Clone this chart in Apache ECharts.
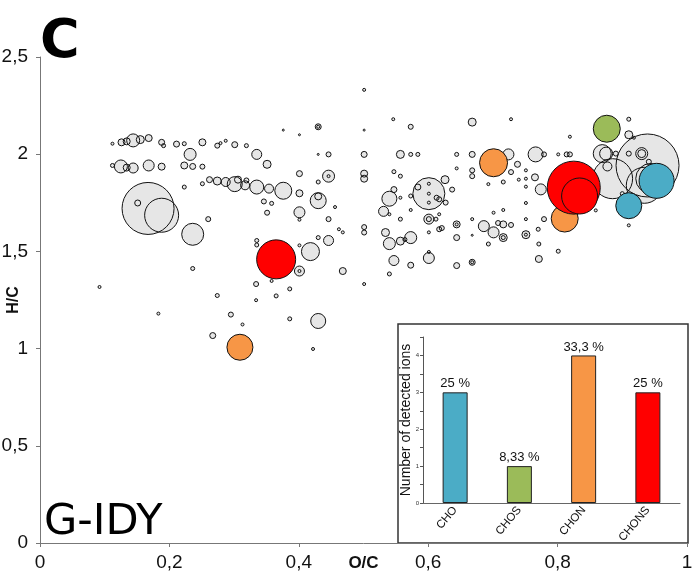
<!DOCTYPE html>
<html>
<head>
<meta charset="UTF-8">
<script src="https://cdn.jsdelivr.net/npm/echarts@6/dist/echarts.min.js"></script>
<style type="text/css">
html, body { margin: 0; padding: 0; background: #fff; }
#main { width: 692px; height: 580px; }
</style>
</head>
<body>
<div id="main"></div>
<script type="text/javascript">
// [O/C, H/C, relative intensity (bubble size)]
var grayPts = [
	[0.112,2.054,3],[0.126,2.061,7],[0.134,2.066,7],[0.144,2.071,13],[0.155,2.075,8],[0.168,2.083,7],
	[0.188,2.061,6],[0.191,2.044,4],[0.211,2.052,6],[0.223,2.054,4],[0.251,2.061,7],[0.274,2.044,5],
	[0.279,2.057,3],[0.287,2.069,3],[0.301,2.049,6],[0.319,2.044,4],[0.376,2.124,2],[0.401,2.100,2],
	[0.430,2.141,6],[0.430,2.141,3],[0.232,1.999,12],[0.335,1.999,10],[0.430,1.999,2],[0.446,1.999,5],
	[0.112,1.942,4],[0.125,1.937,13],[0.134,1.931,7],[0.144,1.929,10],[0.168,1.942,11],[0.188,1.936,7],
	[0.223,1.942,7],[0.236,1.937,6],[0.251,1.936,5],[0.351,1.948,8],[0.401,1.900,6],
	[0.223,1.831,4],[0.251,1.848,4],[0.262,1.869,6],[0.274,1.862,8],[0.287,1.857,9],[0.301,1.846,15],
	[0.306,1.869,7],[0.317,1.840,9],[0.319,1.865,5],[0.335,1.831,14],[0.354,1.823,9],[0.376,1.812,17],
	[0.401,1.799,7],[0.430,1.857,4],[0.446,1.887,12],[0.446,1.887,3],[0.430,1.761,16],[0.430,1.783,7],
	[0.346,1.757,5],[0.358,1.747,4],[0.351,1.699,5],[0.401,1.701,11],[0.401,1.663,3],[0.446,1.666,5],
	[0.430,1.571,4],[0.446,1.556,10],
	[0.167,1.721,52],[0.188,1.686,34],[0.151,1.749,6],[0.236,1.588,22],[0.260,1.666,5],
	[0.335,1.556,4],[0.335,1.533,4],[0.401,1.531,3],[0.418,1.499,18],[0.401,1.399,10],[0.401,1.399,3],
	[0.236,1.412,4],[0.468,1.399,7],[0.334,1.332,5],[0.358,1.348,3],[0.386,1.307,4],[0.274,1.273,4],
	[0.334,1.249,3],[0.365,1.271,4],[0.501,1.332,3],[0.540,1.384,4],[0.547,1.453,10],[0.540,1.540,12],
	[0.534,1.597,8],[0.501,1.625,5],[0.501,1.597,5],[0.462,1.614,3],[0.468,1.598,3],
	[0.092,1.317,3],[0.183,1.180,3],[0.295,1.175,5],[0.313,1.124,3],[0.267,1.067,6],[0.386,1.153,4],
	[0.430,1.142,15],[0.422,0.998,3],
	[0.501,2.331,3],[0.501,2.124,2],[0.546,2.180,3],[0.573,2.141,5],[0.668,2.165,8],[0.728,2.180,3],
	[0.501,1.999,6],[0.557,1.999,8],[0.573,1.999,4],[0.584,1.999,4],[0.644,1.999,4],[0.668,1.999,6],
	[0.724,1.999,11],[0.738,1.948,6],[0.728,1.908,5],[0.716,1.857,4],[0.693,1.846,3],[0.766,1.999,15],
	[0.779,1.999,5],[0.751,1.917,3],[0.751,1.874,3],[0.740,1.869,3],[0.765,1.881,7],[0.751,1.833,3],
	[0.774,1.819,11],[0.644,1.927,3],[0.668,1.917,5],[0.668,1.887,5],[0.456,1.728,3],
	[0.501,1.900,7],[0.501,1.874,7],[0.547,1.910,4],[0.557,1.887,4],[0.547,1.818,6],[0.540,1.771,15],
	[0.557,1.776,3],[0.531,1.706,10],[0.540,1.691,3],[0.557,1.666,4],[0.573,1.785,4],[0.573,1.713,3],
	[0.584,1.831,6],[0.601,1.797,32],[0.601,1.848,3],[0.601,1.797,3],[0.601,1.751,3],[0.613,1.776,5],
	[0.617,1.768,5],[0.626,1.869,8],[0.637,1.818,5],[0.627,1.751,5],[0.617,1.691,3],[0.612,1.666,4],
	[0.601,1.666,10],[0.601,1.666,5],[0.621,1.620,5],[0.617,1.614,5],[0.601,1.598,3],[0.573,1.571,12],
	[0.564,1.561,4],[0.557,1.553,8],[0.573,1.429,6],[0.601,1.466,11],[0.601,1.497,3],
	[0.644,1.639,7],[0.644,1.639,3],[0.644,1.571,6],[0.644,1.427,6],[0.668,1.666,3],[0.668,1.583,2],
	[0.668,1.444,6],[0.668,1.444,3],[0.686,1.630,11],[0.701,1.598,11],[0.701,1.699,3],[0.716,1.713,3],
	[0.708,1.646,5],[0.716,1.639,7],[0.728,1.636,5],[0.716,1.571,8],[0.716,1.571,4],[0.693,1.538,4],
	[0.751,1.749,3],[0.751,1.666,3],[0.751,1.586,8],[0.751,1.586,3],[0.770,1.614,4],[0.771,1.538,4],
	[0.771,1.461,7],[0.801,1.501,4],
	[0.801,1.999,3],[0.814,1.999,5],[0.819,1.999,5],[0.819,2.090,3],[0.779,1.666,5],[0.859,1.711,3],
	[0.910,2.180,4],[0.910,1.634,3],[0.910,2.100,8],[0.918,2.085,3],
	[0.885,1.874,40],[0.939,1.942,63],[0.934,1.840,36],[0.944,1.875,30],
	[0.869,2.003,18],[0.875,2.003,13],[0.877,1.937,9],[0.890,2.003,5],[0.910,2.003,5],
	[0.930,2.003,12],[0.930,2.003,8],[0.941,1.961,5],[0.900,1.797,4]
];
var choPts   = [[0.953,1.863,35],[0.910,1.735,26]];           // blue
var chosPts  = [[0.876,2.131,27]];                             // green
var chonPts  = [[0.701,1.956,28],[0.811,1.669,27],[0.309,1.007,26]]; // orange
var chonsPts = [[0.825,1.828,53],[0.834,1.785,36],[0.365,1.459,39]]; // red

var barCats   = ['CHO', 'CHOS', 'CHON', 'CHONS'];
var barVals   = [3, 1, 4, 3];
var barLabels = ['25 %', '8,33 %', '33,3 %', '25 %'];
var barColors = ['#4bacc6', '#9bbb59', '#f79646', '#ff0000'];

var comma = function (v) { return String(v).replace('.', ','); };
var sz = function (d) { return d[2]; };

var myChart = echarts.init(document.getElementById('main'));

function bubbles(data, fill) {
	return {
		type: 'scatter', xAxisIndex: 0, yAxisIndex: 0, data: data,
		symbolSize: sz,
		itemStyle: { color: fill, borderColor: '#111', borderWidth: 1, opacity: 1 },
		emphasis: { disabled: true }
	};
}

var option = {
	animation: false,
	title: [
		{ text: 'C', left: 35, top: 11, textStyle: { fontFamily: 'DejaVu Sans', fontWeight: 'bold', fontSize: 54, color: '#000' } },
		{ text: 'G-IDY', left: 39, top: 496, textStyle: { fontFamily: 'DejaVu Sans', fontWeight: 'normal', fontSize: 43, color: '#000' } }
	],
	graphic: [{
		type: 'rect', z: -1,
		shape: { x: 398, y: 324, width: 290, height: 219 },
		style: { fill: '#fff', stroke: '#333', lineWidth: 1.5 }
	}],
	grid: [
		{ left: 40, top: 57, right: 5, bottom: 37, containLabel: false, outerBoundsMode: 'none' },
		{ left: 423, top: 337, width: 257, height: 166, containLabel: false, outerBoundsMode: 'none' }
	],
	xAxis: [{
		gridIndex: 0, type: 'value', min: 0, max: 1, interval: 0.2,
		name: 'O/C', nameLocation: 'middle', nameGap: 12, nameMoveOverlap: false,
		nameTextStyle: { fontFamily: 'Liberation Sans', fontWeight: 'bold', fontSize: 17, color: '#111' },
		axisLine: { lineStyle: { color: '#777', width: 1 } },
		axisTick: { length: 4, lineStyle: { color: '#777' } },
		axisLabel: { formatter: comma, fontFamily: 'Liberation Sans', fontSize: 19, color: '#111', margin: 10 },
		splitLine: { show: false }
	}, {
		gridIndex: 1, type: 'category', data: barCats,
		axisLine: { lineStyle: { color: '#666', width: 1 } },
		axisTick: { show: false },
		axisLabel: { rotate: 50, fontFamily: 'Liberation Sans', fontSize: 11.5, color: '#111', margin: 5 }
	}],
	yAxis: [{
		gridIndex: 0, type: 'value', min: 0, max: 2.5, interval: 0.5,
		name: 'H/C', nameLocation: 'middle', nameGap: 18, nameRotate: 90, nameMoveOverlap: false,
		nameTextStyle: { fontFamily: 'Liberation Sans', fontWeight: 'bold', fontSize: 16, color: '#111' },
		axisLine: { show: true, lineStyle: { color: '#777', width: 1 } },
		axisTick: { show: true, length: 4, lineStyle: { color: '#777' } },
		axisLabel: { formatter: comma, fontFamily: 'Liberation Sans', fontSize: 19, color: '#111', margin: 12 },
		splitLine: { show: false }
	}, {
		gridIndex: 1, type: 'value', min: 0, max: 4.5, interval: 0.5,
		name: 'Number of detected ions', nameLocation: 'middle', nameGap: 10, nameRotate: 90, nameMoveOverlap: false,
		nameTextStyle: { fontFamily: 'Liberation Sans', fontSize: 14, color: '#111' },
		axisLine: { show: true, lineStyle: { color: '#555', width: 1 } },
		axisTick: { show: true, length: 3, lineStyle: { color: '#555' } },
		axisLabel: {
			formatter: function (v) { return v % 1 === 0 ? String(v) : ''; },
			fontFamily: 'Liberation Sans', fontSize: 6, color: '#333', margin: 4
		},
		splitLine: { show: false }
	}],
	series: [
		// gray fills first, then every outline on top
		{
			type: 'scatter', xAxisIndex: 0, yAxisIndex: 0, data: grayPts, symbolSize: sz,
			itemStyle: { color: '#e6e6e6', borderWidth: 0, opacity: 1 }, emphasis: { disabled: true }
		},
		{
			type: 'scatter', xAxisIndex: 0, yAxisIndex: 0, data: grayPts, symbolSize: sz,
			itemStyle: { color: 'rgba(0,0,0,0)', borderColor: '#111', borderWidth: 1, opacity: 1 }, emphasis: { disabled: true }
		},
		bubbles(chonPts, '#f79646'),
		bubbles(chosPts, '#9bbb59'),
		bubbles(choPts, '#4bacc6'),
		bubbles(chonsPts, '#ff0000'),
		{
			type: 'bar', xAxisIndex: 1, yAxisIndex: 1, barWidth: 25,
			data: barVals.map(function (v, i) {
				return { value: v, itemStyle: { color: barColors[i] } };
			}),
			itemStyle: { borderColor: '#222', borderWidth: 1 },
			label: {
				show: true, position: 'top', distance: 2,
				formatter: function (p) { return barLabels[p.dataIndex]; },
				fontFamily: 'Liberation Sans', fontSize: 13, color: '#111'
			},
			emphasis: { disabled: true }
		}
	]
};

myChart.setOption(option);
</script>
</body>
</html>
